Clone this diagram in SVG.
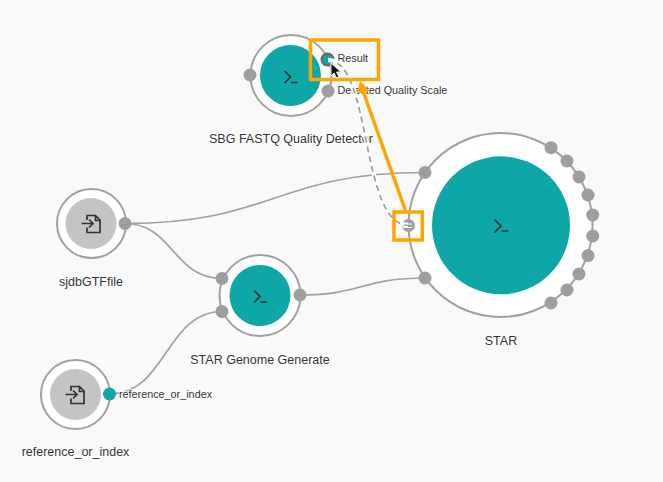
<svg xmlns="http://www.w3.org/2000/svg" width="663" height="482" viewBox="0 0 663 482">
<style>
.outer{fill:#fff;stroke:#a0a0a0;stroke-width:2}
.tool{fill:#0ea6a6}
.input{fill:#c4c4c4}
.port{fill:#9e9e9e}
.edge{fill:none;stroke:#a0a0a0;stroke-width:1.700}
.icon{fill:none;stroke:#333;stroke-width:1.700}
.lbl{font-family:"Liberation Sans",Arial,sans-serif;font-size:12.500px;fill:#333;text-anchor:middle;paint-order:stroke;stroke:#fff;stroke-width:2px;stroke-opacity:.8}
.plbl{font-family:"Liberation Sans",Arial,sans-serif;font-size:10.800px;fill:#333;paint-order:stroke;stroke:#fff;stroke-width:2px;stroke-opacity:.8}
.hl{fill:none;stroke:#ffa500;stroke-width:3.500}
</style>
<rect width="663" height="482" fill="#f9f9f9"/>
<g id="connectors">
<path class="edge" d="M125 223.500C275 223.500 275 172.500 425 172.500"/>
<path class="edge" d="M125 223.500C173 223.500 173 278.500 222 278.500"/>
<path class="edge" d="M110 394C166 394 166 311.500 222 311.500"/>
<path class="edge" d="M300 295C362 295 362 278 425 278"/>
</g>
<g id="node-star">
<circle class="outer" cx="500.500" cy="225" r="92"/>
<circle class="tool" cx="501" cy="225.300" r="69"/>
<path class="icon" d="M494.500 219.500l6.500 6.500-6.500 6.500M501.500 231h7"/>
<circle class="port" cx="425" cy="172.500" r="6.500"/>
<circle class="port" cx="408.500" cy="225.500" r="6.500"/>
<circle class="port" cx="425" cy="278" r="6.500"/>
<circle class="port" cx="551" cy="147.700" r="6.500"/>
<circle class="port" cx="567" cy="161" r="6.500"/>
<circle class="port" cx="579" cy="177" r="6.500"/>
<circle class="port" cx="588" cy="195" r="6.500"/>
<circle class="port" cx="592.700" cy="215" r="6.500"/>
<circle class="port" cx="592.700" cy="236" r="6.500"/>
<circle class="port" cx="588" cy="255.600" r="6.500"/>
<circle class="port" cx="579" cy="274" r="6.500"/>
<circle class="port" cx="567" cy="290" r="6.500"/>
<circle class="port" cx="551" cy="303" r="6.500"/>
<text class="lbl" x="501" y="345">STAR</text>
</g>
<g id="node-sbg">
<circle class="outer" cx="291" cy="75.500" r="40.500"/>
<circle class="tool" cx="290.500" cy="75.500" r="30.500"/>
<path class="icon" d="M284.500 71l6 6-6 6M291 82.500h6.500"/>
<circle class="port" cx="250" cy="75" r="6.500"/>
<circle class="port" cx="328" cy="91" r="6.500"/>
<circle cx="327.500" cy="59.500" r="6" fill="#0ea6a6" stroke="#666" stroke-width="2"/>
<text class="plbl" x="337.500" y="62">Result</text>
<text class="plbl" x="337.500" y="94">Detected Quality Scale</text>
<text class="lbl" x="291" y="143">SBG FASTQ Quality Detector</text>
</g>
<g id="node-sjdb">
<circle class="outer" cx="91.500" cy="223.500" r="34.500"/>
<circle class="input" cx="91" cy="223.500" r="25.500"/>
<path class="icon" d="M87 220v-4.500h8.500l4.500 4.500v12.500H87v-5M81.500 223.500h11M89 219.500l4 4-4 4M95.500 215.500v5h4.500"/>
<circle class="port" cx="125" cy="223.500" r="6.500"/>
<text class="lbl" x="91" y="286">sjdbGTFfile</text>
</g>
<g id="node-gg">
<circle class="outer" cx="260" cy="295.500" r="40.500"/>
<circle class="tool" cx="260" cy="295.500" r="30.500"/>
<path class="icon" d="M254 290.500l6 6-6 6M260.500 302h6.500"/>
<circle class="port" cx="222" cy="278.500" r="6.500"/>
<circle class="port" cx="222" cy="311.500" r="6.500"/>
<circle class="port" cx="300" cy="295" r="6.500"/>
<text class="lbl" x="260" y="364">STAR Genome Generate</text>
</g>
<g id="node-reference">
<circle class="outer" cx="75.500" cy="394.500" r="34.500"/>
<circle class="input" cx="75.500" cy="394.500" r="25.500"/>
<path class="icon" d="M71 391v-4.500h8.500l4.500 4.500v12.500H71v-5M65.500 394.500h11M73 390.500l4 4-4 4M79.500 386.500v5h4.500"/>
<circle cx="109.500" cy="394" r="6.500" fill="#0ea6a6"/>
<text class="plbl" x="119" y="397.500">reference_or_index</text>
<text class="lbl" x="75.500" y="456">reference_or_index</text>
</g>
<g id="connector-highlight">
<path d="M328 60C372 60 360 225 408 225" fill="none" stroke="#fff" stroke-width="4.500"/>
<path d="M328 60C372 60 360 225 408 225" fill="none" stroke="#a0a0a0" stroke-width="1.800" stroke-dasharray="6 4"/>
<path d="M328 60C336 60 341 62 345 66" fill="none" stroke="#fff" stroke-width="2"/>
<path d="M403 224h9M403 227.500h9" stroke="#fff" stroke-width="1" fill="none"/>
</g>
<g id="annotations">
<rect class="hl" x="310.500" y="40" width="68" height="39.500"/>
<rect class="hl" x="394" y="212" width="28.300" height="28"/>
<path d="M406 212L363 91" fill="none" stroke="#ffa500" stroke-width="3.500"/>
<path d="M360 81L370 91 357 93Z" fill="#ffa500"/>
<path d="M331 63V76L334 73 336.500 78 339 77 336.500 72 341 72Z" fill="#111" stroke="#fff" stroke-width="1"/>
</g>
</svg>
